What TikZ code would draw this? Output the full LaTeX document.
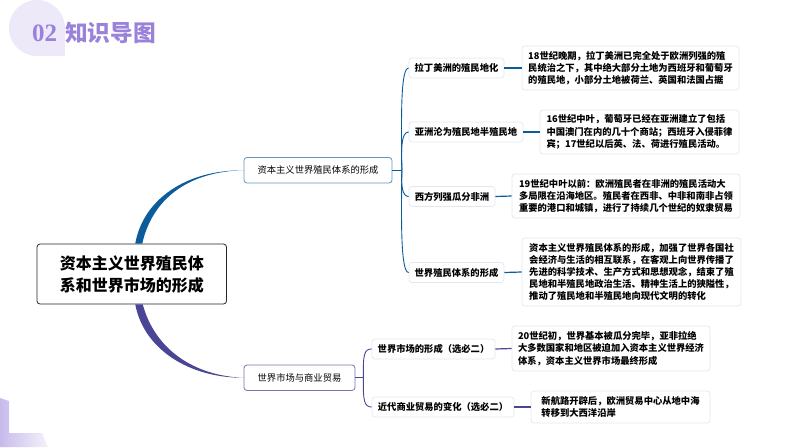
\documentclass[tikz,border=0pt]{standalone}
\usepackage{fontspec}
\setmainfont{Noto Sans CJK SC}
\newfontfamily\numfont{Liberation Serif}
\usetikzlibrary{calc}
\definecolor{bluebr}{HTML}{0B5C9A}
\definecolor{purpbr}{HTML}{4A4595}
\definecolor{titlepurp}{HTML}{9A82DB}
\definecolor{softline}{HTML}{E3E7EE}
\newcommand*{\bodyfont}{\fontsize{9.3}{12.2}\selectfont\bfseries}
\tikzset{
    rootbox/.style = {draw=black!85, fill=white, line width=0.8pt, rounded corners=3pt, inner sep=0pt, align=center, font=\fontsize{16}{22}\selectfont\bfseries},
    secbox/.style  = {fill=white, line width=0.8pt, rounded corners=3pt, inner sep=0pt, minimum height=25.5pt, font=\fontsize{9.3}{12}\selectfont},
    subbox/.style  = {draw=softline, fill=white, line width=0.7pt, rounded corners=3pt, inner sep=0pt, minimum height=20pt, font=\bodyfont},
    notebox/.style = {draw=softline, fill=white, line width=0.7pt, rounded corners=3pt, inner sep=0pt, align=left, font=\bodyfont},
    twig/.style    = {line width=0.9pt},
    stub/.style    = {line width=1.2pt},
}
\begin{document}
\begin{tikzpicture}[x=1pt,y=-1pt]
    \useasboundingbox (0,0) rectangle (794,447);
    % title corner
    \fill [titlepurp!18] (37,28) circle [radius=28];
    \fill [titlepurp!18] (37,28) rectangle (65,56);
    \node [text=titlepurp, font=\numfont\fontsize{25}{25}\selectfont\bfseries, inner sep=0pt] (num) at (44.5,33) {02};
    \node [text=titlepurp, font=\fontsize{22.7}{23}\selectfont\bfseries, inner sep=0pt] (ttl) at (110.5,32.5) {知识导图};
    % corner mark
    \shade [left color=titlepurp!55, right color=titlepurp!10] (0,398) -- (9,401) -- (9,433) -- (42,433) -- (48,447) -- (0,447) -- cycle;

    \node [rootbox, minimum width=189.5pt, minimum height=60pt] (root) at (131.75,274) {资本主义世界殖民体\\系和世界市场的形成};

    \node [secbox, draw=bluebr!65!white, minimum width=148pt] (seca) at (318,170.25) {资本主义世界殖民体系的形成};
    \node [secbox, draw=purpbr!75!white, minimum width=111pt] (secb) at (299.5,377.75) {世界市场与商业贸易};

    \node [subbox, minimum width=95pt]  (lat)  at (456.5,68)  {拉丁美洲的殖民地化};
    \node [subbox, minimum width=114pt] (asia) at (466,132)   {亚洲沦为殖民地半殖民地};
    \node [subbox, minimum width=86pt]  (afr)  at (452,196.5) {西方列强瓜分非洲};
    \node [subbox, minimum width=95pt]  (sys)  at (456.5,272.5) {世界殖民体系的形成};
    \node [subbox, minimum width=123pt] (mkt)  at (433.5,349) {世界市场的形成（选必二）};
    \node [subbox, minimum width=142pt] (trd)  at (443,407)   {近代商业贸易的变化（选必二）};

    \node [notebox, minimum width=217pt, minimum height=44pt] (nlat) at (630.5,68) {18世纪晚期，拉丁美洲已完全处于欧洲列强的殖\\民统治之下，其中绝大部分土地为西班牙和葡萄牙\\的殖民地，小部分土地被荷兰、英国和法国占据};
    \node [notebox, minimum width=199pt, minimum height=44pt] (nasia) at (639.5,132) {16世纪中叶，葡萄牙已经在亚洲建立了包括\\中国澳门在内的几十个商站；西班牙入侵菲律\\宾；17世纪以后英、法、荷进行殖民活动。};
    \node [notebox, minimum width=228pt, minimum height=44pt] (nafr) at (626,196) {19世纪中叶以前：欧洲殖民者在非洲的殖民活动大\\多局限在沿海地区。殖民者在西非、中非和南非占领\\重要的港口和城镇，进行了持续几个世纪的奴隶贸易};
    \node [notebox, minimum width=219pt, minimum height=68pt] (nsys) at (631.5,272) {资本主义世界殖民体系的形成，加强了世界各国社\\会经济与生活的相互联系，在客观上向世界传播了\\先进的科学技术、生产方式和思想观念，结束了殖\\民地和半殖民地政治生活、精神生活上的狭隘性，\\推动了殖民地和半殖民地向现代文明的转化};
    \node [notebox, minimum width=198pt, minimum height=45pt] (nmkt) at (611,348.5) {20世纪初，世界基本被瓜分完毕，亚非拉绝\\大多数国家和地区被迫加入资本主义世界经济\\体系，资本主义世界市场最终形成};
    \node [notebox, minimum width=179pt, minimum height=32pt] (ntrd) at (620.5,407) {新航路开辟后，欧洲贸易中心从地中海\\转移到大西洋沿岸};

    % main branches
    \fill [bluebr] ($(root.north)+(3.5,0)$) .. controls (143,200) and (185,170) .. (seca.west) .. controls (187,171.5) and (152,200) .. ($(root.north)+(10.5,0)$) -- cycle;
    \fill [purpbr] ($(root.south)+(3.5,0)$) .. controls (144,350) and (190,378) .. (secb.west) .. controls (195,376) and (155,350) .. ($(root.south)+(11,0)$) -- cycle;

    % upper tree
    \coordinate (juna) at ($(seca.east)+(9.5,0)$);
    \draw [twig, bluebr] (seca.east) -- (juna);
    \draw [twig, bluebr] (juna) .. controls (401,110) and (401,68) .. (lat.west);
    \draw [twig, bluebr] (juna) .. controls (401,150) and (401,132) .. (asia.west);
    \draw [twig, bluebr] (juna) .. controls (401,185) and (402,196.5) .. (afr.west);
    \draw [twig, bluebr] (juna) .. controls (401,225) and (401,272.5) .. (sys.west);
    \draw [stub, bluebr] (lat.east) -- (nlat.west);
    \draw [stub, bluebr] (asia.east) -- (nasia.west);
    \draw [stub, bluebr] (afr.east) -- (nafr.west);
    \draw [stub, bluebr] (sys.east) -- (nsys.west);

    % lower tree
    \coordinate (junb) at ($(secb.east)+(8,0)$);
    \draw [twig, purpbr] (secb.east) -- (junb);
    \draw [twig, purpbr] (junb) .. controls (363,355) and (364,349) .. (mkt.west);
    \draw [twig, purpbr] (junb) .. controls (363,400) and (364,407) .. (trd.west);
    \draw [stub, purpbr] (mkt.east) -- (nmkt.west);
    \draw [stub, purpbr] (trd.east) -- (ntrd.west);
\end{tikzpicture}
\end{document}
